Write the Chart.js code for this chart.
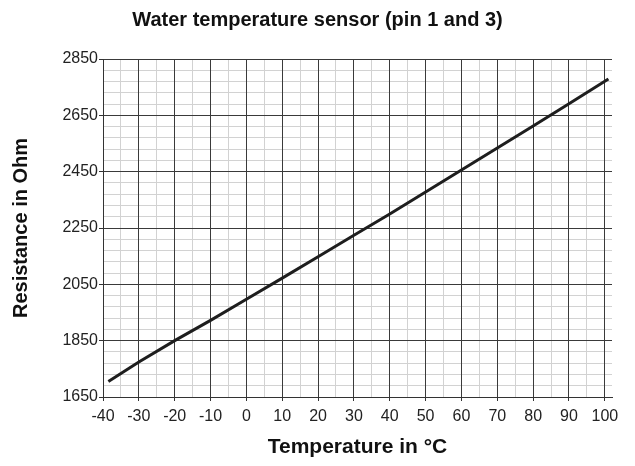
<!DOCTYPE html>
<html>
<head>
<meta charset="utf-8">
<script src="https://cdn.jsdelivr.net/npm/chart.js@4.4.0/dist/chart.umd.min.js"></script>
<style>
  body { margin: 0; background: #fff; }
</style>
</head>
<body>
<canvas id="myChart" width="635" height="466"></canvas>
<script>
(function () {
    "use strict";

    // sensor curve
    const temps = [-38.5, -30, -20, -10, 0, 10, 20, 30, 40, 50, 60, 70, 80, 90, 100, 101];
    const ohms = [1705, 1774, 1850, 1922, 1997, 2072, 2148, 2224, 2300, 2378, 2456, 2534, 2612, 2691, 2771, 2779];

    // tick positions
    const xMajor = [-40, -30, -20, -10, 0, 10, 20, 30, 40, 50, 60, 70, 80, 90, 100];
    const xMinor = [-35, -25, -15, -5, 5, 15, 25, 35, 45, 55, 65, 75, 85, 95];
    const yMajor = [1650, 1850, 2050, 2250, 2450, 2650, 2850];
    const yMinor = [1690, 1730, 1770, 1810, 1890, 1930, 1970, 2010, 2090, 2130, 2170, 2210,
        2290, 2330, 2370, 2410, 2490, 2530, 2570, 2610, 2690, 2730, 2770, 2810];

    const X_MIN = -40, X_MAX = 102, Y_MIN = 1650, Y_MAX = 2850;
    const font = "'Liberation Sans', Arial, sans-serif";

    const points = temps.map((t, i) => ({ x: t, y: ohms[i] }));
    const toTicks = arr => arr.map(v => ({ value: v }));

    // light grid only; the y one sits on the right and keeps the empty strip there
    const minorScale = (axis, pos, ticks, size) => ({
        type: 'linear', axis: axis, position: pos, min: axis === 'x' ? X_MIN : Y_MIN, max: axis === 'x' ? X_MAX : Y_MAX,
        z: -2,
        afterBuildTicks: s => { s.ticks = toTicks(ticks); },
        afterFit: s => { if (axis === 'x') s.height = size; else s.width = size; },
        ticks: { display: false },
        border: { display: false },
        grid: { color: '#d2d2d2', lineWidth: 1, drawTicks: false }
    });

    const ctx = document.getElementById('myChart').getContext('2d');
    new Chart(ctx, {
        type: 'scatter',
        data: {
            datasets: [{
                label: 'Resistance',
                data: points,
                showLine: true,
                borderColor: '#1e1e1e',
                borderWidth: 3,
                pointRadius: 0,
                tension: 0
            }]
        },
        options: {
            responsive: false,
            animation: false,
            layout: { padding: 0 },
            plugins: {
                legend: { display: false },
                tooltip: { enabled: false },
                title: {
                    display: true,
                    text: 'Water temperature sensor (pin 1 and 3)',
                    color: '#111',
                    font: { family: font, size: 20, weight: 'bold' },
                    padding: { top: 8, bottom: 27 }
                }
            },
            scales: {
                xm: minorScale('x', 'bottom', xMinor, 0),
                ym: minorScale('y', 'right', yMinor, 23),
                x: {
                    type: 'linear', min: X_MIN, max: X_MAX,
                    z: -1,
                    afterBuildTicks: s => { s.ticks = toTicks(xMajor); },
                    afterFit: s => { s.height = 69; },
                    ticks: { color: '#222', font: { family: font, size: 16 }, padding: 6, maxRotation: 0,
                        callback: v => String(v) },
                    border: { display: true, color: '#333', width: 1 },
                    grid: { color: '#3a3a3a', lineWidth: 1, tickLength: 4, tickColor: '#333' },
                    title: {
                        display: true, text: 'Temperature in °C', color: '#111',
                        font: { family: font, size: 21, weight: 'bold' },
                        padding: { top: 6, bottom: 6 }
                    }
                },
                y: {
                    type: 'linear', min: Y_MIN, max: Y_MAX,
                    z: -1,
                    afterBuildTicks: s => { s.ticks = toTicks(yMajor); },
                    afterFit: s => { s.width = 103; },
                    ticks: { color: '#222', font: { family: font, size: 16 }, padding: 1,
                        callback: v => String(v) },
                    border: { display: true, color: '#333', width: 1 },
                    grid: { color: '#3a3a3a', lineWidth: 1, tickLength: 4, tickColor: '#333' },
                    title: {
                        display: true, text: 'Resistance in Ohm', color: '#111',
                        font: { family: font, size: 20, weight: 'bold' },
                        padding: { top: 9, bottom: 9 }
                    }
                }
            }
        }
    });
})();
</script>
</body>
</html>
